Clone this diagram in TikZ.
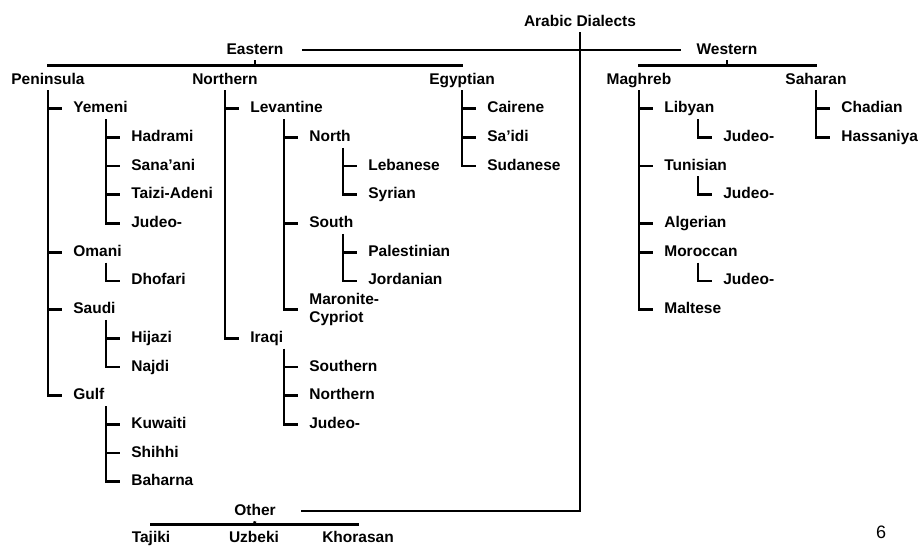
\documentclass[tikz,border=0pt]{standalone}
\usepackage{fontspec}
\setmainfont{Liberation Sans}

\begin{document}
\begin{tikzpicture}[x=1pt, y=-1pt, line width=2.7pt,
  base/.style={font=\fontsize{15.5}{18}\selectfont\bfseries, inner xsep=0pt, inner ysep=2pt},
  hd/.style={base, text height=11pt, text depth=3pt},
  lang/.style={hd, anchor=west}]
  \useasboundingbox (0,0) rectangle (919,547);

  % top level
  \node[hd] (root) at (580,22) {Arabic Dialects};
  \node[hd] (eas) at (255,50) {Eastern};
  \node[hd] (wes) at (727,50) {Western};
  \node[hd] (oth) at (255,511) {Other};
  \draw (root.south) |- ([xshift=24pt]oth.east);
  \draw ([xshift=17pt]eas.east) -- ([xshift=-14pt]wes.west);

  % branches
  \node[hd] (pen) at (48,80) {Peninsula};
  \node[hd] (nor) at (225,80) {Northern};
  \node[hd] (egy) at (462,80) {Egyptian};
  \node[hd] (mag) at (639,80) {Maghreb};
  \node[hd] (sah) at (816,80) {Saharan};

  % Peninsula
  \node[lang] (yem) at (72,108.7) {Yemeni};
  \node[lang] (had) at (130,137.4) {Hadrami};
  \node[lang] (san) at (130,166.1) {Sana’ani};
  \node[lang] (tai) at (130,194.8) {Taizi-Adeni};
  \node[lang] (yjud) at (130,223.5) {Judeo-};
  \node[lang] (oma) at (72,252.2) {Omani};
  \node[lang] (dho) at (130,280.9) {Dhofari};
  \node[lang] (sau) at (72,309.6) {Saudi};
  \node[lang] (hij) at (130,338.3) {Hijazi};
  \node[lang] (naj) at (130,367) {Najdi};
  \node[lang] (gul) at (72,395.7) {Gulf};
  \node[lang] (kuw) at (130,424.4) {Kuwaiti};
  \node[lang] (shi) at (130,453.1) {Shihhi};
  \node[lang] (bah) at (130,481.8) {Baharna};

  % Northern
  \node[lang] (lev) at (249,108.7) {Levantine};
  \node[lang] (nth) at (308,137.4) {North};
  \node[lang] (leb) at (367,166.1) {Lebanese};
  \node[lang] (syr) at (367,194.8) {Syrian};
  \node[lang] (sth) at (308,223.5) {South};
  \node[lang] (pal) at (367,252.2) {Palestinian};
  \node[lang] (jor) at (367,280.9) {Jordanian};
  \node[base, anchor=west, align=left] (mar) at (308,309.6) {Maronite-\\Cypriot};
  \node[lang] (ira) at (249,338.3) {Iraqi};
  \node[lang] (sou) at (308,367) {Southern};
  \node[lang] (inor) at (308,395.7) {Northern};
  \node[lang] (ijud) at (308,424.4) {Judeo-};

  % Egyptian
  \node[lang] (cai) at (486,108.7) {Cairene};
  \node[lang] (sai) at (486,137.4) {Sa’idi};
  \node[lang] (sud) at (486,166.1) {Sudanese};

  % Maghreb
  \node[lang] (lib) at (663,108.7) {Libyan};
  \node[lang] (ljud) at (722,137.4) {Judeo-};
  \node[lang] (tun) at (663,166.1) {Tunisian};
  \node[lang] (tjud) at (722,194.8) {Judeo-};
  \node[lang] (alg) at (663,223.5) {Algerian};
  \node[lang] (mor) at (663,252.2) {Moroccan};
  \node[lang] (mjud) at (722,280.9) {Judeo-};
  \node[lang] (mal) at (663,309.6) {Maltese};

  % Saharan
  \node[lang] (cha) at (840,108.7) {Chadian};
  \node[lang] (has) at (840,137.4) {Hassaniya};

  % Other
  \node[hd] (taj) at (151,538) {Tajiki};
  \node[hd] (uzb) at (254,538) {Uzbeki};
  \node[hd] (kho) at (358,538) {Khorasan};

  % brackets
  \coordinate (ebar) at ([yshift=-5pt]eas.south);
  \coordinate (wbar) at ([yshift=-5pt]wes.south);
  \coordinate (obar) at ([yshift=-3pt]oth.south);
  \draw (eas.south) -- (ebar);
  \draw ([yshift=3pt]pen.north) |- (ebar) -| ([yshift=3pt]egy.north);
  \draw ([yshift=3pt]nor.north) -- (nor.north |- ebar);
  \draw (wes.south) -- (wbar);
  \draw ([yshift=3pt]mag.north) |- (wbar) -| ([yshift=3pt]sah.north);
  \draw (oth.south) -- ([yshift=2pt]uzb.north);
  \draw ([yshift=2pt]taj.north) |- (obar) -| ([yshift=2pt]kho.north);

  % stems
  \foreach \p/\l in {pen/gul, yem/yjud, oma/dho, sau/naj, gul/bah,
                     nor/ira, lev/mar, nth/syr, sth/jor, ira/ijud,
                     egy/sud, mag/mal, lib/ljud, tun/tjud, mor/mjud, sah/has}
    \draw ([xshift=-24pt]\l.west |- \p.south) |- ([xshift=-10pt]\l.west);
  \foreach \c in {yem, oma, sau, had, san, tai, hij, kuw, shi,
                  lev, nth, sth, leb, pal, sou, inor,
                  cai, sai, lib, tun, alg, mor, cha}
    \draw ([xshift=-24pt]\c.west) -- ([xshift=-10pt]\c.west);

  \node[font=\fontsize{18}{20}\selectfont] (pnum) at (881,532) {6};
\end{tikzpicture}
\end{document}
